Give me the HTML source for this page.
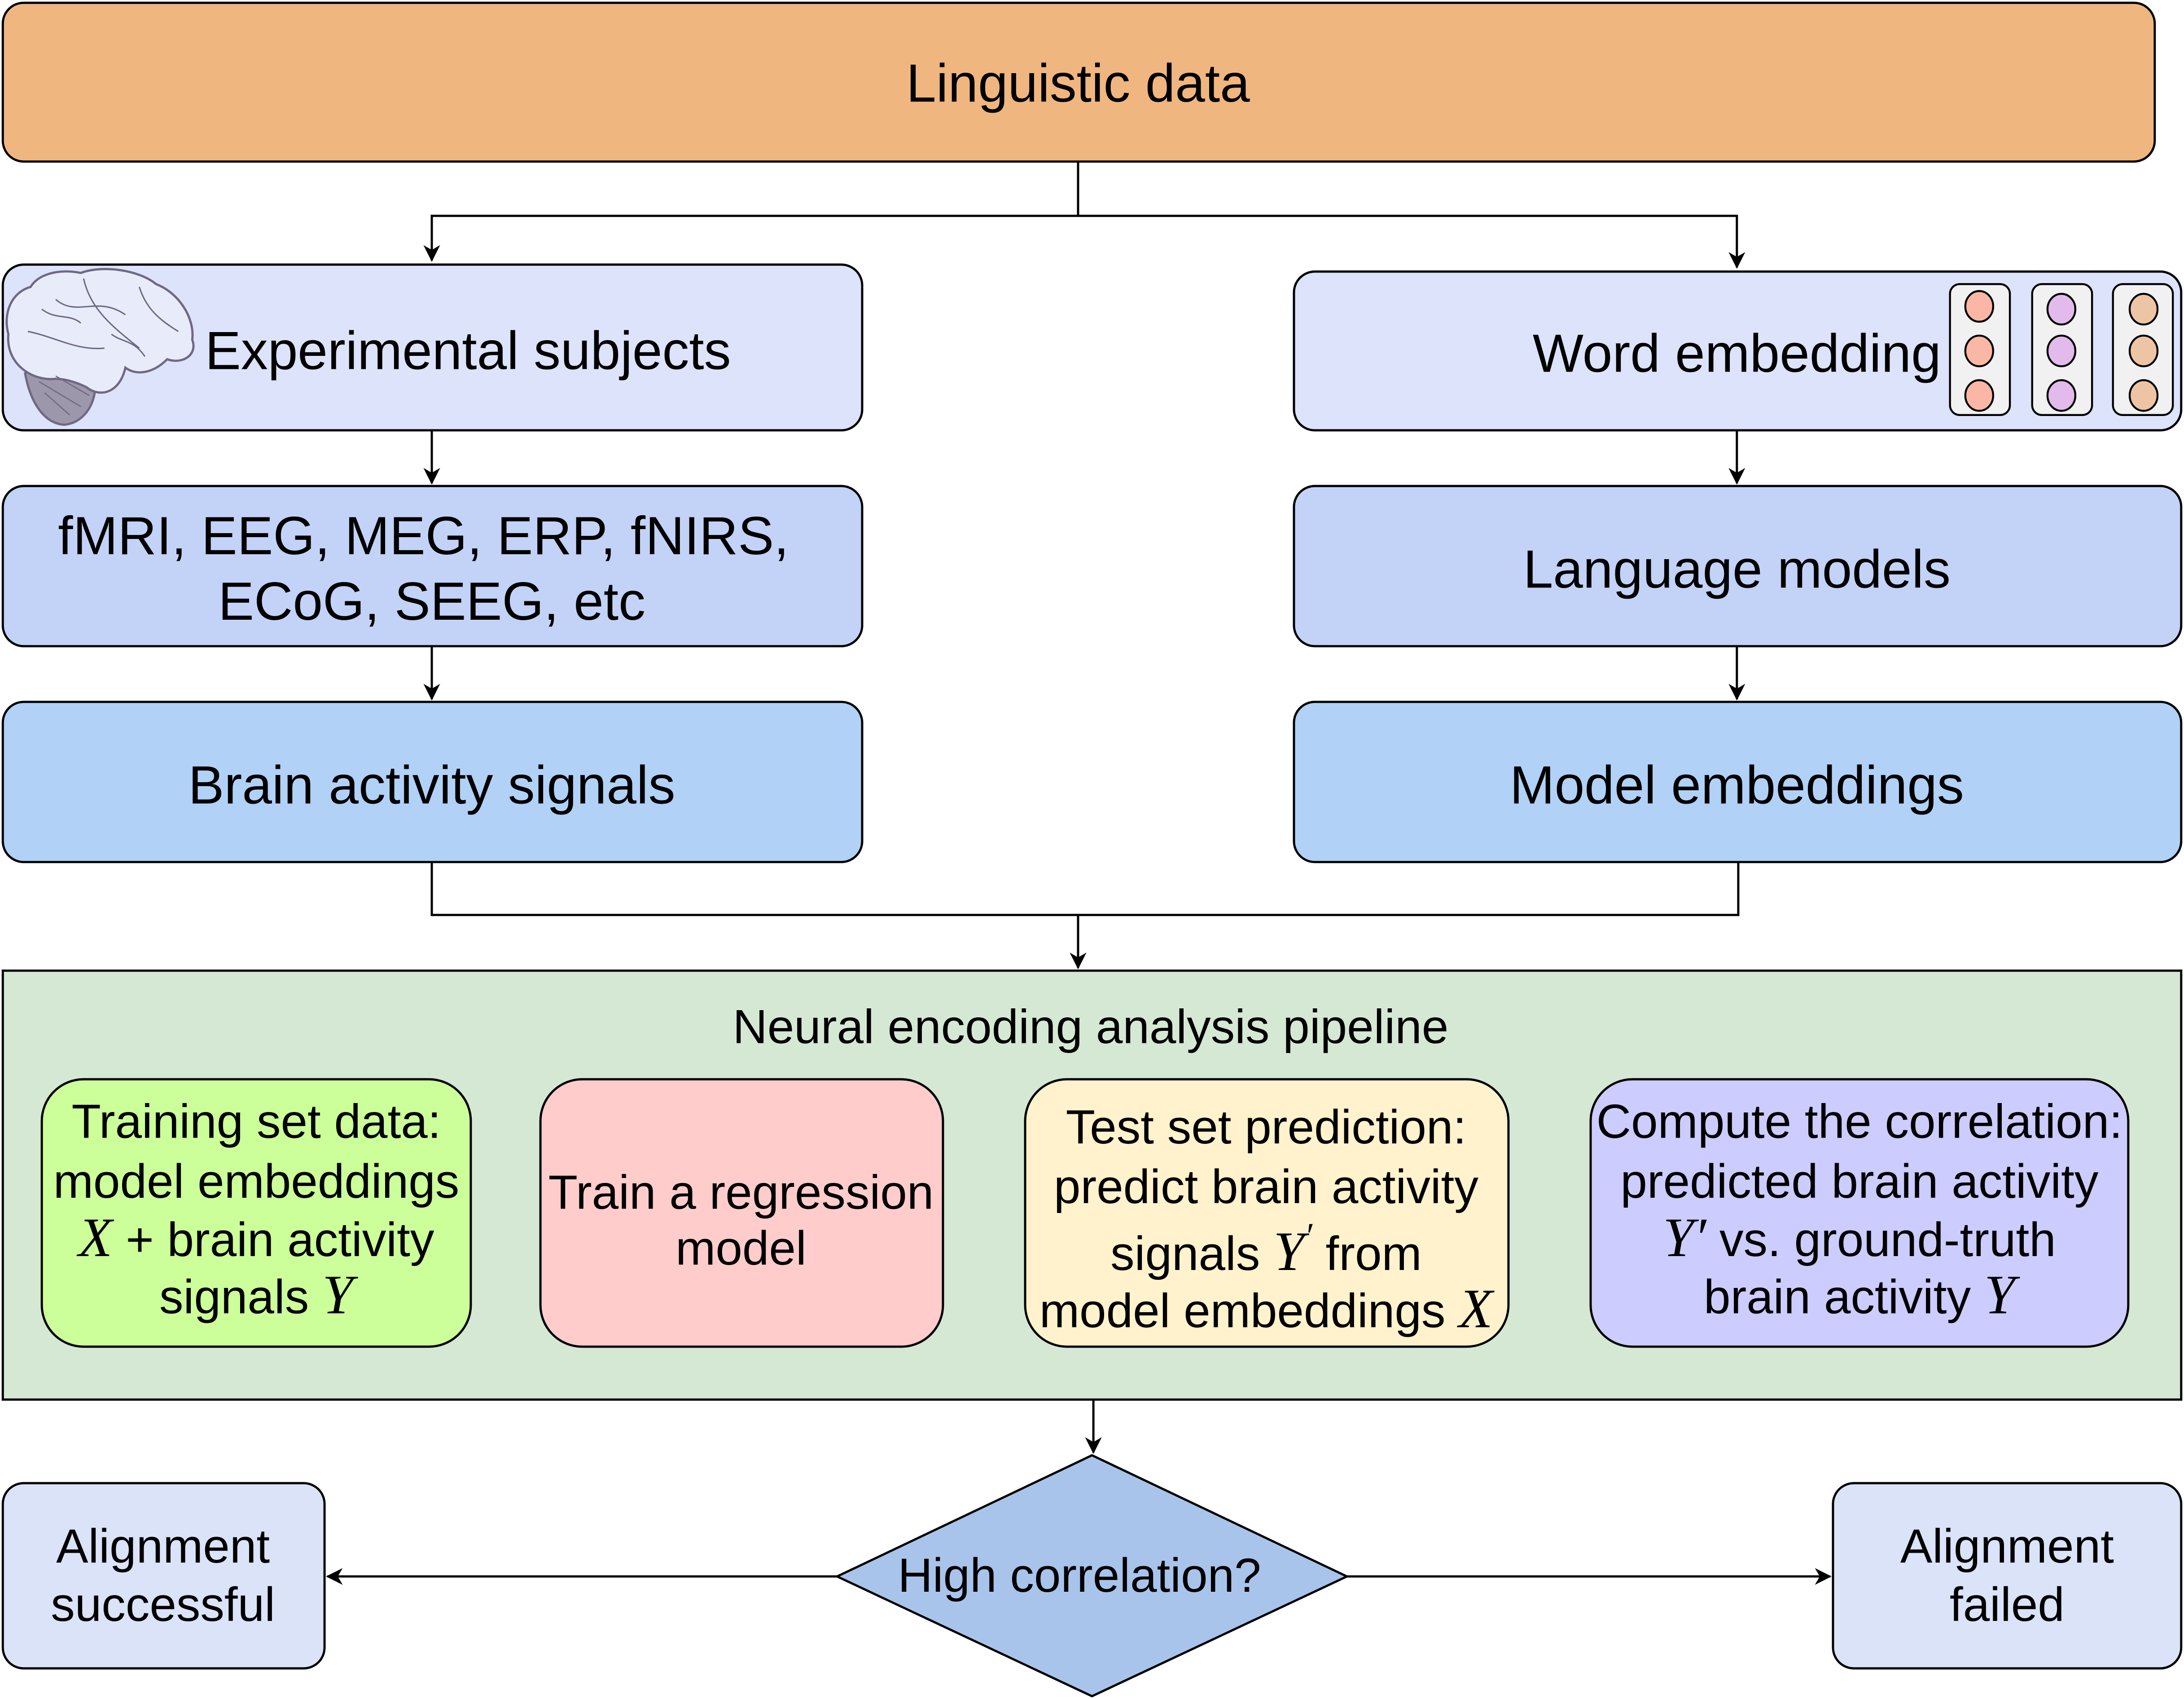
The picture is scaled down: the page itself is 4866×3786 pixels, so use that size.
<!DOCTYPE html>
<html><head><style>
html,body{margin:0;padding:0;background:#fff;}
svg{display:block;}
text{font-family:"Liberation Sans",sans-serif;fill:#000;}
.m{font-family:"Liberation Serif",serif;font-style:italic;font-size:40px;}
</style></head><body>
<svg width="4866" height="3786" viewBox="0 0 1568 1220" xmlns="http://www.w3.org/2000/svg">
<defs>
<marker id="a" markerWidth="12" markerHeight="12" refX="11" refY="6" orient="auto" markerUnits="userSpaceOnUse"><path d="M0,0 L12,6 L0,12 L3.5,6 Z" fill="#000"/></marker>
</defs>
<g stroke="#000" stroke-width="1.6" fill="none">
<path d="M774,116 V155 H310 V187" marker-end="url(#a)"/>
<path d="M774,155 H1247 V192" marker-end="url(#a)"/>
<path d="M310,309 V347" marker-end="url(#a)"/>
<path d="M310,464 V502" marker-end="url(#a)"/>
<path d="M1247,309 V347" marker-end="url(#a)"/>
<path d="M1247,464 V502" marker-end="url(#a)"/>
<path d="M310,619 V657 H1248 V619"/>
<path d="M774,657 V695" marker-end="url(#a)"/>
<path d="M338,871 H386" marker-end="url(#a)"/>
<path d="M677,871 H734" marker-end="url(#a)"/>
<path d="M1083,871 H1140" marker-end="url(#a)"/>
<path d="M785,1005 V1043" marker-end="url(#a)"/>
<path d="M601,1132 H235" marker-end="url(#a)"/>
<path d="M967,1132 H1314" marker-end="url(#a)"/>
</g>
<g stroke="#000" stroke-width="1.6">
<rect x="2" y="2" width="1545" height="114" rx="15" fill="#f0b680"/>
<rect x="2" y="190" width="617" height="119" rx="15" fill="#dce3fa"/>
<rect x="929" y="195" width="637" height="114" rx="15" fill="#dce3fa"/>
<rect x="2" y="349" width="617" height="115" rx="15" fill="#c3d2f7"/>
<rect x="929" y="349" width="637" height="115" rx="15" fill="#c3d2f7"/>
<rect x="2" y="504" width="617" height="115" rx="15" fill="#b1d1f7"/>
<rect x="929" y="504" width="637" height="115" rx="15" fill="#b1d1f7"/>
<rect x="2" y="697" width="1564" height="308" fill="#d5e8d4"/>
<rect x="30" y="775" width="308" height="192" rx="30" fill="#ccff99"/>
<rect x="388" y="775" width="289" height="192" rx="30" fill="#ffcccc"/>
<rect x="736" y="775" width="347" height="192" rx="30" fill="#fff2cc"/>
<rect x="1142" y="775" width="386" height="192" rx="30" fill="#ccccff"/>
<path d="M784,1045 L967,1132 L784,1218 L601,1132 Z" fill="#a9c4eb"/>
<rect x="2" y="1065" width="231" height="133" rx="15" fill="#dae3f8"/>
<rect x="1316" y="1065" width="250" height="133" rx="15" fill="#dae3f8"/>
<rect x="1400" y="204" width="43" height="94" rx="7" fill="#f1f1f1" stroke-width="1.4"/>
<rect x="1459" y="204" width="43" height="94" rx="7" fill="#f1f1f1" stroke-width="1.4"/>
<rect x="1517" y="204" width="43" height="94" rx="7" fill="#f1f1f1" stroke-width="1.4"/>
<g stroke-width="1.4">
<ellipse cx="1421" cy="220" rx="10" ry="11" fill="#fbb7a5"/><ellipse cx="1421" cy="252" rx="10" ry="11" fill="#fbb7a5"/><ellipse cx="1421" cy="284" rx="10" ry="11" fill="#fbb7a5"/>
<ellipse cx="1480" cy="222" rx="10" ry="11" fill="#e2bbec"/><ellipse cx="1480" cy="252" rx="10" ry="11" fill="#e2bbec"/><ellipse cx="1480" cy="284" rx="10" ry="11" fill="#e2bbec"/>
<ellipse cx="1539" cy="222" rx="10" ry="11" fill="#edc5a5"/><ellipse cx="1539" cy="252" rx="10" ry="11" fill="#edc5a5"/><ellipse cx="1539" cy="284" rx="10" ry="11" fill="#edc5a5"/>
</g>
</g>
<!-- brain -->
<g stroke="#6f6883" stroke-width="1.6">
<path d="M18,268 C22,290 32,304 46,305 C58,304 66,294 68,282 C70,274 62,268 50,265 C38,262 26,262 18,268 Z" fill="#9c97ab"/>
<path d="M40,272 C24,274 4,262 6,240 C2,225 8,210 22,206 C28,196 44,193 58,196 C74,190 100,194 112,204 C128,210 140,228 138,244 C142,254 132,262 120,258 C110,268 98,270 90,264 C86,282 72,286 62,278 C54,274 46,272 40,272 Z" fill="#e8ecfa"/>
<path d="M40,215 C55,228 70,212 90,226 M60,200 C65,222 80,234 100,250 M20,238 C40,242 55,252 75,250 M100,206 C105,222 115,230 128,238 M30,222 C40,230 50,225 58,232 M80,240 C88,246 96,244 104,256" fill="none" stroke-width="1"/>
<path d="M32,282 L50,298 M28,274 L58,292 M40,270 L64,284" fill="none" stroke-width="0.8"/>
</g>
<g font-size="38.6" text-anchor="middle">
<text x="774" y="73">Linguistic data</text>
<text x="336" y="265">Experimental subjects</text>
<text x="1247" y="267">Word embedding</text>
<text x="304" y="398">fMRI, EEG, MEG, ERP, fNIRS,</text>
<text x="310" y="445">ECoG, SEEG, etc</text>
<text x="1247" y="422">Language models</text>
<text x="310" y="577">Brain activity signals</text>
<text x="1247" y="577">Model embeddings</text>
</g>
<g font-size="34.5" text-anchor="middle">
<text x="117" y="1122">Alignment</text>
<text x="117" y="1164">successful</text>
<text x="1441" y="1122">Alignment</text>
<text x="1441" y="1164">failed</text>
<text x="775" y="1143">High correlation?</text>
<text x="783" y="749">Neural encoding analysis pipeline</text>
<text x="184" y="817">Training set data:</text>
<text x="184" y="860">model embeddings</text>
<text x="184" y="902"><tspan class="m">X</tspan> + brain activity</text>
<text x="184" y="943">signals <tspan class="m">Y</tspan></text>
<text x="532" y="868">Train a regression</text>
<text x="532" y="908">model</text>
<text x="909" y="821">Test set prediction:</text>
<text x="909" y="864">predict brain activity</text>
<text x="909" y="912">signals <tspan class="m">Y</tspan><tspan class="m" dy="-16" font-size="26" style="font-size:26px">′</tspan><tspan dy="16"> from</tspan></text>
<text x="909" y="953">model embeddings <tspan class="m">X</tspan></text>
<text x="1335" y="817">Compute the correlation:</text>
<text x="1335" y="860">predicted brain activity</text>
<text x="1335" y="902"><tspan class="m">Y′</tspan> vs. ground-truth</text>
<text x="1335" y="943">brain activity <tspan class="m">Y</tspan></text>
</g>
</svg>
</body></html>
